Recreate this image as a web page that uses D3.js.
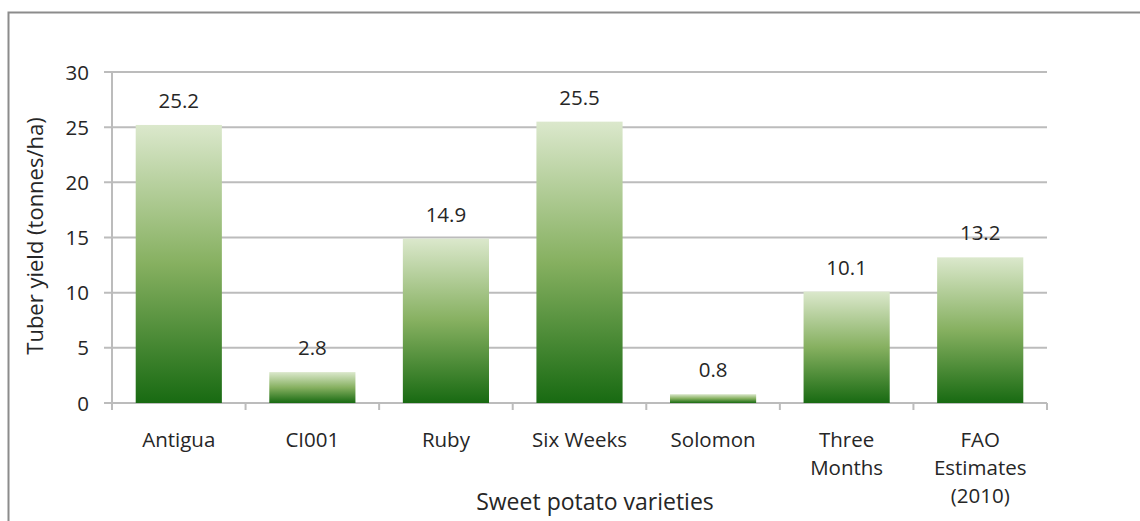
<!DOCTYPE html>
<html><head><meta charset="utf-8">
<script src="https://cdn.jsdelivr.net/npm/d3@7"></script>
<style>body{margin:0;background:#fff}svg{display:block}</style>
</head><body>
<svg id="c" width="1140" height="521"></svg>
<script>
const categories = [["Antigua"],["CI001"],["Ruby"],["Six Weeks"],["Solomon"],["Three","Months"],["FAO","Estimates","(2010)"]];
const values = [25.2, 2.8, 14.9, 25.5, 0.8, 10.1, 13.2];
const yTicks = [0,5,10,15,20,25,30];

const svg = d3.select("#c");
const font = "Open Sans, sans-serif";
const m = {l:112, r:1047, t:72, b:403};
const x = d3.scaleBand().domain(d3.range(categories.length)).range([m.l,m.r]).paddingInner(0.355).paddingOuter(0.1775);
const y = d3.scaleLinear().domain([0,30]).range([m.b,m.t]);

// outer border
svg.append("path").attr("d","M8.5,521 L8.5,12.5 L1140,12.5").attr("fill","none").attr("stroke","#8c8c8c").attr("stroke-width",2);

const defs = svg.append("defs");
const g = defs.append("linearGradient").attr("id","gr").attr("x1",0).attr("y1",0).attr("x2",0).attr("y2",1);
g.append("stop").attr("offset","0%").attr("stop-color","#dbe8cc");
g.append("stop").attr("offset","50%").attr("stop-color","#86b060");
g.append("stop").attr("offset","100%").attr("stop-color","#186a12");

// gridlines
svg.append("g").selectAll("line").data(yTicks).join("line")
  .attr("x1",104).attr("x2",m.r).attr("y1",d=>y(d)).attr("y2",d=>y(d))
  .attr("stroke","#bcbcbc").attr("stroke-width",2);
// y axis line
svg.append("line").attr("x1",m.l).attr("x2",m.l).attr("y1",m.t).attr("y2",m.b+7).attr("stroke","#bcbcbc").attr("stroke-width",2);
// x ticks
svg.append("g").selectAll("line").data(d3.range(categories.length+1)).join("line")
  .attr("x1",i=>m.l+i*x.step()).attr("x2",i=>m.l+i*x.step()).attr("y1",m.b).attr("y2",m.b+7)
  .attr("stroke","#bcbcbc").attr("stroke-width",2);

// bars
svg.append("g").selectAll("rect").data(values).join("rect")
  .attr("x",(d,i)=>x(i)).attr("width",x.bandwidth())
  .attr("y",d=>y(d)).attr("height",d=>y(0)-y(d)).attr("fill","url(#gr)");

// value labels
svg.append("g").selectAll("text").data(values).join("text")
  .attr("x",(d,i)=>x(i)+x.bandwidth()/2).attr("y",d=>y(d)-17)
  .attr("text-anchor","middle").attr("font-family",font).attr("font-size",20.5).attr("fill","#262626")
  .text(d=>d.toFixed(1));

// y tick labels
svg.append("g").selectAll("text").data(yTicks).join("text")
  .attr("x",89).attr("y",d=>y(d)+7.5).attr("text-anchor","end")
  .attr("font-family",font).attr("font-size",20.5).attr("fill","#262626").text(d=>d);

// category labels
const cl = svg.append("g").selectAll("text").data(categories).join("text")
  .attr("x",(d,i)=>x(i)+x.bandwidth()/2).attr("y",447)
  .attr("text-anchor","middle").attr("font-family",font).attr("font-size",20.5).attr("fill","#262626");
cl.selectAll("tspan").data(d=>d).join("tspan")
  .attr("x",function(){return this.parentNode.getAttribute("x");})
  .attr("dy",(d,j)=>j===0?0:28).text(d=>d);

// axis titles
svg.append("text").attr("x",595).attr("y",510).attr("text-anchor","middle")
  .attr("font-family",font).attr("font-size",23).attr("fill","#262626").text("Sweet potato varieties");
svg.append("text").attr("transform","translate(43,236) rotate(-90)").attr("text-anchor","middle")
  .attr("font-family",font).attr("font-size",22).attr("fill","#262626").text("Tuber yield (tonnes/ha)");
</script>
</body></html>
